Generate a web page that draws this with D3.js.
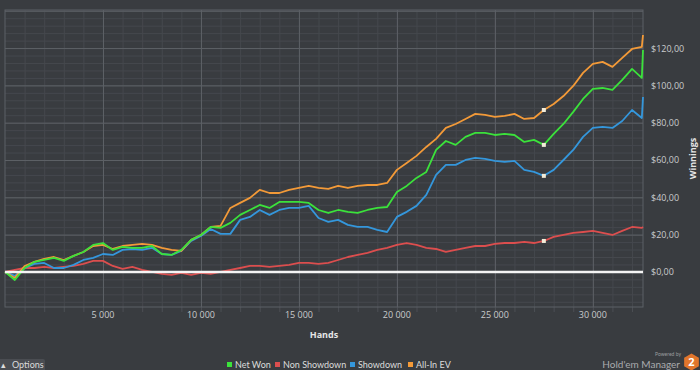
<!DOCTYPE html>
<html>
<head>
<meta charset="utf-8">
<script src="https://cdn.jsdelivr.net/npm/d3@7"></script>
<style>
  html, body { margin: 0; padding: 0; background: #393c40; }
  body { width: 700px; height: 370px; overflow: hidden; font-family: "Open Sans", "DejaVu Sans", sans-serif; }
  .tick-label { fill: #c9cbcd; font-size: 9px; }
  .axis-title { fill: #e6e6e6; font-size: 9px; font-weight: bold; }
  .legend-text { fill: #dcdcdc; font-size: 9px; font-family: Lato, "Open Sans", sans-serif; }
</style>
</head>
<body>
<div id="chart"></div>
<script>
// hands played (x)
const hands = [0, 500, 1000, 1500, 2000, 2500, 3000, 3500, 4000, 4500,
  5000, 5500, 6000, 6500, 7000, 7500, 8000, 8500, 9000, 9500,
  10000, 10500, 11000, 11500, 12000, 12500, 13000, 13500, 14000, 14500,
  15000, 15500, 16000, 16500, 17000, 17500, 18000, 18500, 19000, 19500,
  20000, 20500, 21000, 21500, 22000, 22500, 23000, 23500, 24000, 24500,
  25000, 25500, 26000, 26500, 27000, 27500, 28000, 28500, 29000, 29500,
  30000, 30500, 31000, 31500, 32000, 32500, 32560];

const netWon = [0, -4.3, 2.1, 5.4, 6.4, 7.5, 5.9, 8.6, 10.7, 14.5,
  15.5, 11.8, 13.4, 12.9, 12.9, 13.9, 9.6, 9.1, 11.8, 17.2,
  19.8, 24.1, 23.6, 26.3, 30.6, 33.2, 35.9, 34.3, 37.5, 37.5,
  37.5, 37.0, 33.2, 31.6, 33.2, 32.2, 31.6, 33.2, 34.3, 34.8,
  42.9, 46.1, 50.4, 53.6, 65.4, 70.2, 68.1, 72.4, 74.5, 74.5,
  73.4, 74.0, 73.4, 69.7, 70.8, 68.1, 74.0, 79.3, 85.8, 92.7,
  98.1, 98.6, 97.6, 102.9, 108.8, 104.0, 119.0];

const nonShowdown = [0, 1.1, 2.1, 2.1, 2.7, 2.1, 2.7, 3.2, 4.3, 5.9,
  5.9, 3.2, 1.6, 2.7, 1.1, 0, -1.1, -1.6, -0.5, -1.6,
  -0.5, -1.1, 0, 1.1, 2.1, 3.2, 3.2, 2.7, 3.2, 3.8,
  4.8, 4.8, 4.3, 4.8, 6.4, 8.0, 9.1, 10.2, 11.8, 12.9,
  14.5, 15.5, 14.5, 12.9, 12.3, 10.7, 11.8, 12.9, 13.9, 13.9,
  15.0, 15.5, 15.5, 16.1, 15.5, 16.6, 18.8, 19.8, 20.9, 21.4,
  22.0, 20.9, 19.8, 22.0, 24.1, 23.6, 24.1];

const showdown = [0, -2.1, 2.1, 4.3, 4.8, 2.1, 2.1, 3.8, 6.4, 7.5,
  9.6, 9.1, 11.8, 12.3, 11.8, 12.9, 9.6, 9.1, 11.3, 16.6,
  19.3, 23.0, 20.4, 20.4, 27.9, 29.5, 33.2, 30.6, 33.2, 34.3,
  34.3, 35.4, 28.9, 26.8, 27.9, 25.2, 24.1, 24.1, 22.5, 21.4,
  29.5, 32.2, 35.4, 41.3, 52.0, 57.4, 57.4, 60.0, 61.1, 60.6,
  59.5, 59.0, 59.5, 54.7, 53.6, 51.5, 54.7, 60.0, 65.4, 72.4,
  77.2, 77.7, 77.2, 80.9, 86.8, 82.5, 93.8];

const allInEV = [0, -3.2, 3.2, 5.4, 7.0, 8.0, 6.4, 8.6, 10.7, 13.9,
  14.5, 12.3, 13.9, 14.5, 15.0, 14.5, 12.9, 11.8, 11.3, 17.2,
  19.8, 24.1, 24.7, 34.3, 37.0, 39.7, 44.0, 42.3, 42.3, 44.0,
  45.0, 46.1, 45.0, 44.5, 46.1, 45.0, 46.1, 46.6, 46.6, 47.7,
  54.7, 58.4, 62.2, 67.0, 71.3, 77.2, 79.3, 82.0, 84.7, 84.2,
  83.1, 83.6, 84.7, 82.0, 82.5, 86.8, 90.0, 94.3, 99.7, 106.7,
  111.5, 112.6, 109.9, 114.7, 119.5, 120.6, 127.0];

// hover markers seen on the picture sit on this data point
const markerIndex = 55;

const seriesNames = ['Net Won', 'Non Showdown', 'Showdown', 'All-In EV'];
const seriesColors = ['#3be23b', '#dc4e4e', '#3497dc', '#f39a38'];
const yTicks = [0, 20, 40, 60, 80, 100, 120];
const xTicks = [5000, 10000, 15000, 20000, 25000, 30000];

const width = 700, height = 370;
const plot = { left: 5, right: 643, top: 10, bottom: 307 };

const svg = d3.select('#chart').append('svg')
  .attr('width', width)
  .attr('height', height);

svg.append('rect').attr('width', width).attr('height', height).attr('fill', '#393c40');

const x = d3.scaleLinear().domain([0, 32560]).range([plot.left, plot.right]);
const y = d3.scaleLinear().domain([-18.8, 140.4]).range([plot.bottom, plot.top]);

// minor grid
const g = svg.append('g');
g.append('g')
  .attr('transform', `translate(0,${plot.bottom})`)
  .call(d3.axisBottom(x).tickValues(d3.range(1000, 32561, 1000))
    .tickSize(-(plot.bottom - plot.top)).tickFormat(''))
  .call(a => a.select('.domain').remove())
  .call(a => a.selectAll('line').attr('stroke', '#45484d'));
g.append('g')
  .attr('transform', `translate(${plot.left},0)`)
  .call(d3.axisLeft(y).tickValues(d3.range(-16, 141, 4))
    .tickSize(-(plot.right - plot.left)).tickFormat(''))
  .call(a => a.select('.domain').remove())
  .call(a => a.selectAll('line').attr('stroke', '#45484d'));

// little ticks under the axis
g.append('g')
  .attr('transform', `translate(0,${plot.bottom})`)
  .call(d3.axisBottom(x).tickValues(d3.range(1000, 32561, 1000)).tickSize(5).tickFormat(''))
  .call(a => a.select('.domain').remove())
  .call(a => a.selectAll('line').attr('stroke', '#4c4f54'));

// major grid
g.append('g')
  .attr('transform', `translate(0,${plot.bottom})`)
  .call(d3.axisBottom(x).tickValues(xTicks)
    .tickSize(-(plot.bottom - plot.top)).tickFormat(''))
  .call(a => a.select('.domain').remove())
  .call(a => a.selectAll('line').attr('stroke', '#5d6166'));
g.append('g')
  .attr('transform', `translate(${plot.left},0)`)
  .call(d3.axisLeft(y).tickValues(yTicks.concat([140]))
    .tickSize(-(plot.right - plot.left)).tickFormat(''))
  .call(a => a.select('.domain').remove())
  .call(a => a.selectAll('line').attr('stroke', '#5d6166'));

svg.append('rect')
  .attr('x', plot.left).attr('y', plot.top)
  .attr('width', plot.right - plot.left).attr('height', plot.bottom - plot.top)
  .attr('fill', 'none').attr('stroke', '#5d6166');

// axis labels
const fmtHands = d => d3.format(',')(d).replace(/,/g, ' ');
svg.append('g').selectAll('text').data(xTicks).join('text')
  .attr('class', 'tick-label')
  .attr('x', d => x(d)).attr('y', 318)
  .attr('text-anchor', 'middle')
  .text(fmtHands);

svg.append('g').selectAll('text').data(yTicks).join('text')
  .attr('class', 'tick-label')
  .attr('x', 651).attr('y', d => y(d) + 3.5)
  .text(d => '$' + d3.format('.2f')(d).replace('.', ','));

svg.append('text').attr('class', 'axis-title')
  .attr('x', (plot.left + plot.right) / 2).attr('y', 338)
  .attr('text-anchor', 'middle').text('Hands');

svg.append('text').attr('class', 'axis-title')
  .attr('transform', `translate(696,${(plot.top + plot.bottom) / 2}) rotate(-90)`)
  .attr('text-anchor', 'middle').text('Winnings');

// lines
const series = [netWon, nonShowdown, showdown, allInEV];
const drawOrder = [1, 2, 3, 0];
const line = d3.line().x((d, i) => x(hands[i])).y(d => y(d));

const lines = svg.append('g');
drawOrder.forEach(k => {
  lines.append('path')
    .datum(series[k])
    .attr('fill', 'none')
    .attr('stroke', seriesColors[k])
    .attr('stroke-width', 1.8)
    .attr('stroke-linejoin', 'round')
    .attr('d', line);
});

// zero line
svg.append('line')
  .attr('x1', plot.left).attr('x2', plot.right)
  .attr('y1', y(0)).attr('y2', y(0))
  .attr('stroke', '#f4f4f4').attr('stroke-width', 2.5);

svg.append('g').selectAll('rect').data(series).join('rect')
  .attr('x', x(hands[markerIndex]) - 2).attr('y', d => y(d[markerIndex]) - 2)
  .attr('width', 4).attr('height', 4)
  .attr('fill', '#f3ecd8');

// legend
const legendX = [227, 275, 350, 408];
const legend = svg.append('g');
seriesNames.forEach((name, i) => {
  legend.append('rect')
    .attr('x', legendX[i]).attr('y', 362).attr('width', 5).attr('height', 5)
    .attr('fill', seriesColors[i]);
  legend.append('text').attr('class', 'legend-text')
    .attr('x', legendX[i] + 8).attr('y', 368).text(name);
});

// options button
svg.append('rect').attr('x', -3).attr('y', 359).attr('width', 48).attr('height', 14)
  .attr('rx', 2).attr('fill', '#4a4d52');
svg.append('text').attr('class', 'legend-text')
  .attr('x', 1).attr('y', 368).text('\u25B4');
svg.append('text').attr('class', 'legend-text')
  .attr('x', 12).attr('y', 368).text('Options');

// branding
svg.append('text').attr('x', 681).attr('y', 356)
  .attr('text-anchor', 'end').attr('fill', '#9a9c9f').attr('font-size', 5)
  .attr('font-family', 'Lato, sans-serif')
  .text('Powered by');
svg.append('text').attr('x', 680).attr('y', 367.5)
  .attr('text-anchor', 'end').attr('fill', '#a9abae').attr('font-size', 10)
  .attr('font-family', 'Lato, sans-serif')
  .text("Hold'em Manager");
const hex = d3.range(6).map(i => {
  const a = Math.PI / 3 * i + Math.PI / 6;
  return [691.5 + 8.5 * Math.cos(a), 362 + 8.5 * Math.sin(a)];
});
svg.append('polygon').attr('points', hex.map(p => p.join(',')).join(' '))
  .attr('fill', '#e0752c');
svg.append('text').attr('x', 691.5).attr('y', 366)
  .attr('text-anchor', 'middle').attr('fill', '#fff')
  .attr('font-size', 11).attr('font-weight', 'bold').text('2');
</script>
</body>
</html>
